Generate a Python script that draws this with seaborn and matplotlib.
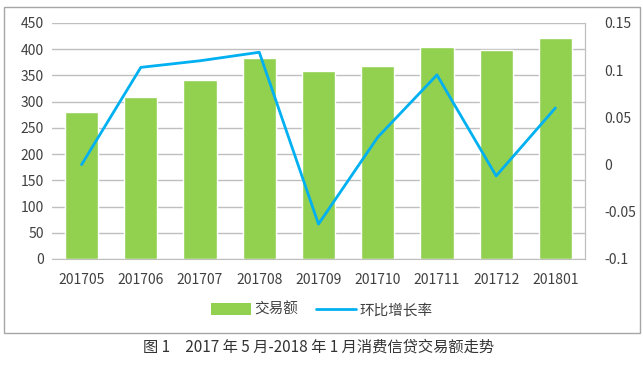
import numpy as np
import pandas as pd
import matplotlib
matplotlib.use("Agg")
import matplotlib.pyplot as plt
import seaborn as sns
from matplotlib.patches import Rectangle, Patch
from matplotlib.lines import Line2D

months = ["201705", "201706", "201707", "201708", "201709",
          "201710", "201711", "201712", "201801"]
amount = [280, 309, 341, 383, 358, 368, 404, 399, 421]
growth = [0.0, 0.103, 0.110, 0.119, -0.063, 0.029, 0.095, -0.012, 0.060]

bar_color = "#92D050"
line_color = "#00B0F0"

sns.set_style("white")
plt.rcParams["font.family"] = ["Noto Sans CJK SC", "DejaVu Sans"]

df = pd.DataFrame({"month": months, "amount": amount, "growth": growth})

fig = plt.figure(figsize=(6.43, 3.65), dpi=100)
ax = fig.add_axes([52 / 643, 1 - 259 / 365, 533 / 643, 236 / 365])

sns.barplot(data=df, x="month", y="amount", color=bar_color, width=0.56,
            saturation=1, ax=ax, zorder=2)
ax.set_ylim(0, 450)
ax.set_yticks(range(0, 451, 50))
ax.yaxis.grid(True, color="#BFBFBF", linewidth=1, zorder=0)
ax.set_axisbelow(True)
ax.set_xlabel("")
ax.set_ylabel("")
for s in ["top", "left"]:
    ax.spines[s].set_visible(False)
ax.spines["bottom"].set_color("#BFBFBF")
ax.spines["right"].set_color("#BFBFBF")
ax.tick_params(axis="both", length=0, labelsize=10, colors="#404040", pad=6)
ax.tick_params(axis="x", pad=10)

ax2 = ax.twinx()
sns.lineplot(x=np.arange(len(months)), y=df["growth"], color=line_color,
             linewidth=2, ax=ax2)
ax2.set_ylim(-0.1, 0.15)
ax2.set_yticks([-0.1, -0.05, 0, 0.05, 0.1, 0.15])
ax2.set_yticklabels(["-0.1", "-0.05", "0", "0.05", "0.1", "0.15"])
ax2.set_ylabel("")
for s in ["top", "left", "bottom"]:
    ax2.spines[s].set_visible(False)
ax2.spines["right"].set_color("#BFBFBF")
ax2.tick_params(axis="y", length=0, labelsize=10, colors="#404040", pad=14)
ax.set_xlim(-0.5, len(months) - 0.5)

handles = [Patch(facecolor=bar_color, edgecolor="none"),
           Line2D([], [], color=line_color, linewidth=2)]
fig.legend(handles, ["交易额", "环比增长率"], loc="center",
           bbox_to_anchor=(0.5, 1 - 310 / 365), ncol=2, frameon=False,
           fontsize=10.5, handlelength=2.8, handleheight=0.9,
           handletextpad=0.2, columnspacing=1.2, labelcolor="#404040")

fig.patches.append(Rectangle((4 / 643, 1 - 333 / 365), 636 / 643, 326 / 365,
                             transform=fig.transFigure, fill=False,
                             edgecolor="#A6A6A6", linewidth=1))

fig.text(0.495, 1 - 347 / 365, "图 1　2017 年 5 月-2018 年 1 月消费信贷交易额走势",
         ha="center", va="center", fontsize=11, color="#333333")

fig.savefig("out.png", dpi=100)
